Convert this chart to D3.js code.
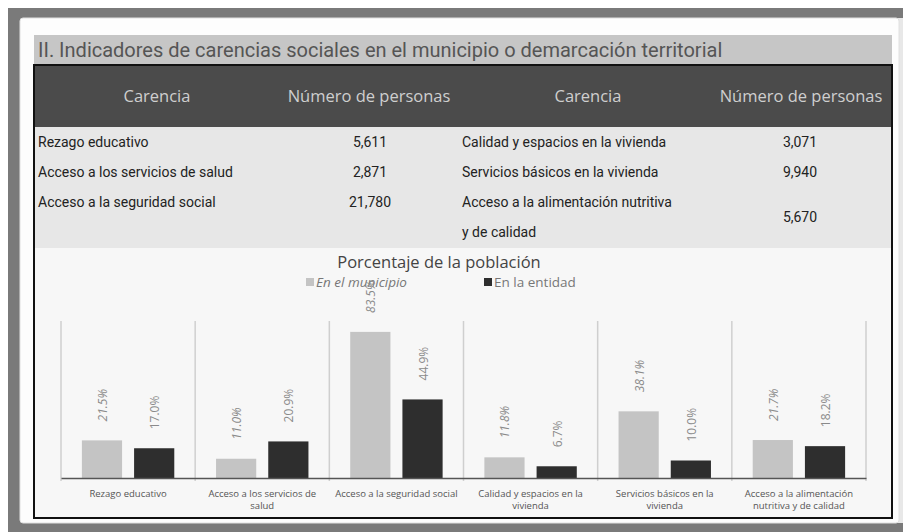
<!DOCTYPE html>
<html>
<head>
<meta charset="utf-8">
<script src="https://cdn.jsdelivr.net/npm/d3@7"></script>
<style>
  body { margin: 0; background: #fff; }
  svg { display: block; }
</style>
</head>
<body>
<script>
const W = 903;
const H = 532;

// table data
const tablaIzq = ["Rezago educativo", "Acceso a los servicios de salud", "Acceso a la seguridad social"];
const personasIzq = ["5,611", "2,871", "21,780"];
const tablaDer = ["Calidad y espacios en la vivienda", "Servicios básicos en la vivienda", "Acceso a la alimentación nutritiva"];
const personasDer = ["3,071", "9,940", "5,670"];

// chart data
const categorias = [
    ["Rezago educativo"],
    ["Acceso a los servicios de", "salud"],
    ["Acceso a la seguridad social"],
    ["Calidad y espacios en la", "vivienda"],
    ["Servicios básicos en la", "vivienda"],
    ["Acceso a la alimentación", "nutritiva y de calidad"]
];
const municipio = [21.5, 11.0, 83.5, 11.8, 38.1, 21.7];
const entidad = [17.0, 20.9, 44.9, 6.7, 10.0, 18.2];
const series = ["En el municipio", "En la entidad"];

const svg = d3.select("body").append("svg")
    .attr("width", W)
    .attr("height", H);

// outer frame
svg.append("rect").attr("x", 8).attr("y", 8).attr("width", W - 8).attr("height", H - 8).attr("fill", "#7a7a7a");
svg.append("rect").attr("x", 898).attr("y", 18).attr("width", 5).attr("height", 505).attr("fill", "#e8e8e8");
svg.append("rect").attr("x", 20).attr("y", 18).attr("width", 879).attr("height", 505)
    .attr("rx", 3).attr("fill", "#fdfdfd").attr("stroke", "#e0e0e0");

// title bar
svg.append("rect").attr("x", 34).attr("y", 35).attr("width", 858).attr("height", 30).attr("fill", "#c6c6c6");
svg.append("text")
    .attr("x", 38).attr("y", 57)
    .text("II. Indicadores de carencias sociales en el municipio o demarcación territorial")
    .style("font-family", "Roboto")
    .style("font-size", "20px")
    .style("fill", "#555");

// header
svg.append("rect").attr("x", 34).attr("y", 65).attr("width", 858).attr("height", 62).attr("fill", "#4b4b4b");
const headers = ["Carencia", "Número de personas", "Carencia", "Número de personas"];
const headerX = [157, 369, 588, 801];
headers.forEach(function (h, i) {
    svg.append("text")
        .attr("x", headerX[i]).attr("y", 102)
        .attr("text-anchor", "middle")
        .text(h)
        .style("font-family", "Open Sans")
        .style("font-size", "16.5px")
        .style("fill", "#cfcfcf");
});

// table body
svg.append("rect").attr("x", 34).attr("y", 127).attr("width", 858).attr("height", 121).attr("fill", "#e7e7e7");
const rowY = [147, 177, 207];
tablaIzq.forEach(function (t, i) {
    svg.append("text").attr("x", 38).attr("y", rowY[i]).text(t)
        .style("font-family", "Roboto").style("font-size", "14px").style("fill", "#222");
    svg.append("text").attr("x", 370).attr("y", rowY[i]).attr("text-anchor", "middle").text(personasIzq[i])
        .style("font-family", "Roboto").style("font-size", "14px").style("fill", "#222");
});
tablaDer.forEach(function (t, i) {
    svg.append("text").attr("x", 462).attr("y", rowY[i]).text(t)
        .style("font-family", "Roboto").style("font-size", "14px").style("fill", "#222");
    svg.append("text").attr("x", 800).attr("y", i === 2 ? 222 : rowY[i]).attr("text-anchor", "middle").text(personasDer[i])
        .style("font-family", "Roboto").style("font-size", "14px").style("fill", "#222");
});
svg.append("text").attr("x", 462).attr("y", 237).text("y de calidad")
    .style("font-family", "Roboto").style("font-size", "14px").style("fill", "#222");

// chart area
svg.append("rect").attr("x", 34).attr("y", 248).attr("width", 858).attr("height", 270).attr("fill", "#f7f7f7");

svg.append("text")
    .attr("x", 439).attr("y", 268)
    .attr("text-anchor", "middle")
    .text("Porcentaje de la población")
    .style("font-family", "Open Sans")
    .style("font-size", "16.5px")
    .style("fill", "#444");

// legend
const legX = [306, 484];
const legColor = ["#c4c4c4", "#2e2e2e"];
series.forEach(function (s, i) {
    svg.append("rect").attr("x", legX[i]).attr("y", 278).attr("width", 8).attr("height", 8).attr("fill", legColor[i]);
    svg.append("text").attr("x", legX[i] + 10).attr("y", 287).text(s)
        .style("font-family", "Open Sans").style("font-size", "13.5px")
        .style("font-style", i === 0 ? "italic" : "normal")
        .style("fill", "#777");
});

// scales
const x0 = d3.scaleBand().domain(d3.range(categorias.length)).range([61, 866]);
const x1 = d3.scaleBand().domain([0, 1]).range([0, x0.bandwidth()]).paddingInner(0.23).paddingOuter(0.4);
const y = d3.scaleLinear().domain([0, 100]).range([478, 303]);

// separators
svg.selectAll(".sep")
    .data(d3.range(categorias.length + 1))
    .enter().append("line")
    .attr("x1", d => 61 + d * x0.bandwidth())
    .attr("x2", d => 61 + d * x0.bandwidth())
    .attr("y1", 321).attr("y2", 481)
    .style("stroke", "#cfcfcf").style("stroke-width", 1.5);

const datos = categorias.map((c, i) => ({ i: i, vals: [municipio[i], entidad[i]] }));

const grupos = svg.selectAll(".g")
    .data(datos)
    .enter().append("g")
    .attr("transform", d => "translate(" + x0(d.i) + ",0)");

grupos.selectAll("rect")
    .data(d => d.vals.map((v, k) => ({ k: k, v: v })))
    .enter().append("rect")
    .attr("x", d => x1(d.k))
    .attr("y", d => y(d.v))
    .attr("width", x1.bandwidth())
    .attr("height", d => y(0) - y(d.v))
    .attr("fill", d => legColor[d.k]);

grupos.selectAll(".lab")
    .data(d => d.vals.map((v, k) => ({ k: k, v: v })))
    .enter().append("text")
    .attr("transform", d => "translate(" + (x1(d.k) + x1.bandwidth() / 2 + 5) + "," + (y(d.v) - 19) + ") rotate(-90)")
    .text(d => d.v.toFixed(1) + "%")
    .style("font-family", "Open Sans")
    .style("font-size", "12px")
    .style("font-style", d => d.k === 0 ? "italic" : "normal")
    .style("fill", "#8a8a8a");

// baseline axis
const axis = svg.append("g")
    .attr("transform", "translate(0,478)")
    .call(d3.axisBottom(x0).tickSize(0).tickFormat(""));
axis.select(".domain").style("stroke", "#555").style("stroke-width", 1.5);

grupos.each(function (d) {
    const g = d3.select(this);
    categorias[d.i].forEach(function (line, j) {
        g.append("text")
            .attr("text-anchor", "middle")
            .attr("x", x0.bandwidth() / 2)
            .attr("y", 497 + j * 12)
            .text(line)
            .style("font-family", "Open Sans")
            .style("font-size", "9.5px")
            .style("fill", "#555");
    });
});

// black border
svg.append("rect").attr("x", 34).attr("y", 65).attr("width", 858).attr("height", 453)
    .attr("fill", "none").attr("stroke", "#111").attr("stroke-width", 2);
</script>
</body>
</html>
